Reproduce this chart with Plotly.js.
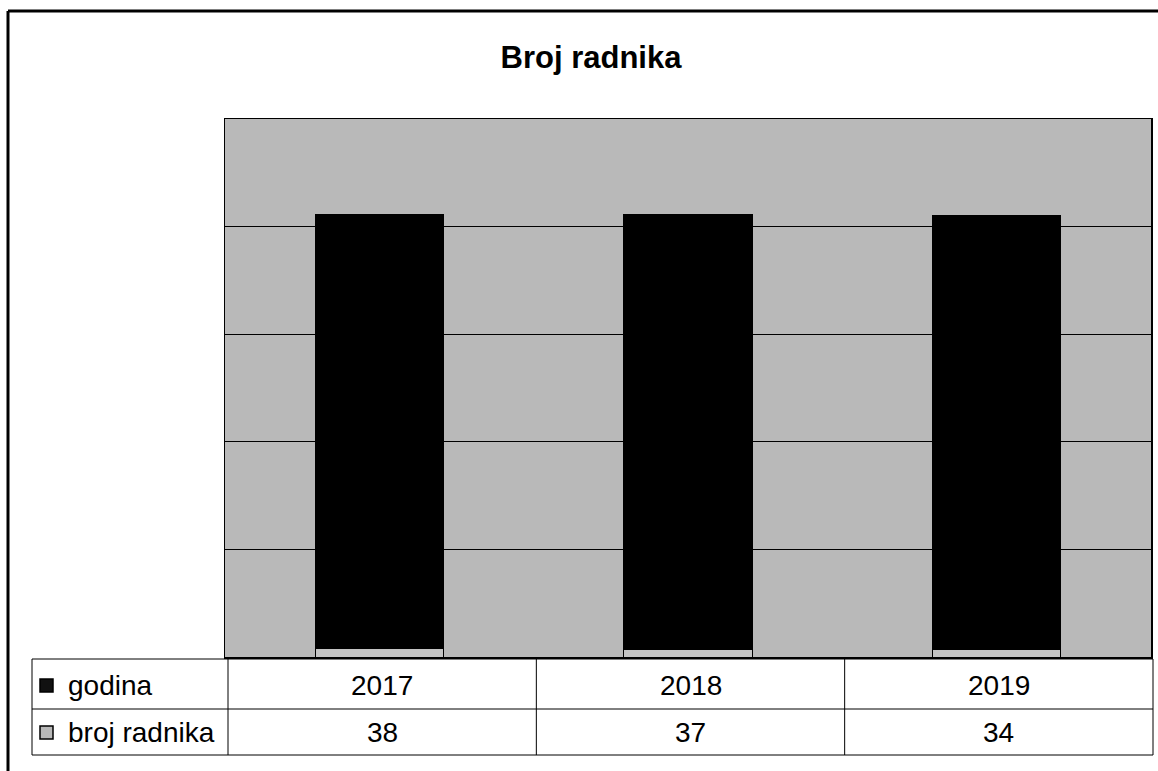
<!DOCTYPE html>
<html>
<head>
<meta charset="utf-8">
<script src="https://cdn.plot.ly/plotly-3.0.1.min.js"></script>
<style>
  html, body { margin: 0; padding: 0; background: #ffffff; }
  #chart { width: 1158px; height: 771px; }
</style>
</head>
<body>
<div id="chart"></div>
<script>
// ---- data ----
const chartTitle = 'Broj radnika';
const categories = ['2017', '2018', '2019'];
const seriesNames = ['godina', 'broj radnika'];
const godina = [2017, 2018, 2019];
const brojRadnika = [38, 37, 34];

// ---- geometry helpers (pixel -> paper) ----
const W = 1158, H = 771;
const L = 225, R = 1151, T = 119, B = 657;
const px = p => (p - L) / (R - L);
const py = p => (B - p) / (B - T);

const FONT = 'Liberation Sans, Arial, sans-serif';

const traces = [
  {
    type: 'bar', name: seriesNames[1], x: categories, y: brojRadnika,
    marker: { color: '#c4c4c4', line: { color: '#000000', width: 1 } },
    hoverinfo: 'skip'
  },
  {
    type: 'bar', name: seriesNames[0], x: categories, y: godina,
    marker: { color: '#000000', line: { color: '#000000', width: 1 } },
    hoverinfo: 'skip'
  }
];

const shapes = [];
const line = (x0, y0, x1, y1, w) => shapes.push({
  type: 'line', xref: 'paper', yref: 'paper',
  x0: px(x0), y0: py(y0), x1: px(x1), y1: py(y1),
  line: { color: '#000000', width: w }
});

// outer frame
line(8, 11, 1160, 11, 3);
line(8, 11, 8, 775, 3);

// data table grid
const tLeft = 32, tFirst = 228, tRight = 1153;
const rowLines = [659, 709, 755];
rowLines.forEach(y => line(tLeft, y, tRight, y, 1));
const colW = (tRight - tFirst) / categories.length;
const colLines = [tLeft, tFirst];
categories.forEach((c, i) => colLines.push(tFirst + colW * (i + 1)));
colLines.forEach(x => line(x, rowLines[0], x, rowLines[2], 1));

// legend keys
const rowCenters = [685, 732];
const keyColors = ['#111111', '#b8b8b8'];
rowCenters.forEach((yc, i) => shapes.push({
  type: 'rect', xref: 'paper', yref: 'paper',
  x0: px(40), x1: px(53), y0: py(yc - 6), y1: py(yc + 7),
  fillcolor: keyColors[i], line: { color: '#000000', width: 1.5 }
}));

const annotations = [];
seriesNames.forEach((n, i) => annotations.push({
  xref: 'paper', yref: 'paper', x: px(66), y: py(rowCenters[i]),
  xanchor: 'left', yanchor: 'middle', showarrow: false, text: n,
  font: { family: FONT, size: 28, color: '#000000' }
}));
categories.forEach((c, i) => {
  const xc = px(tFirst + colW * (i + 0.5));
  annotations.push({
    xref: 'paper', yref: 'paper', x: xc, y: py(rowCenters[0]),
    xanchor: 'center', yanchor: 'middle', showarrow: false, text: String(godina[i]),
    font: { family: FONT, size: 28, color: '#000000' }
  });
  annotations.push({
    xref: 'paper', yref: 'paper', x: xc, y: py(rowCenters[1]),
    xanchor: 'center', yanchor: 'middle', showarrow: false, text: String(brojRadnika[i]),
    font: { family: FONT, size: 28, color: '#000000' }
  });
});

const layout = {
  width: W, height: H,
  margin: { l: L, r: W - R, t: T, b: H - B, pad: 0 },
  paper_bgcolor: '#ffffff',
  plot_bgcolor: '#b9b9b9',
  showlegend: false,
  barmode: 'stack',
  bargap: 0.585,
  title: {
    text: '<b>' + chartTitle + '</b>',
    x: 591 / W, xanchor: 'center', y: 1 - 57 / H, yanchor: 'middle',
    font: { family: FONT, size: 31, color: '#000000' }
  },
  xaxis: {
    type: 'category', range: [-0.5, 2.5],
    showticklabels: false, ticks: '', showgrid: false,
    showline: true, linecolor: '#000000', linewidth: 1.5, mirror: true,
    zeroline: false, fixedrange: true
  },
  yaxis: {
    range: [0, 2500], dtick: 500, tick0: 0,
    showticklabels: false, ticks: '',
    showgrid: true, gridcolor: '#000000', gridwidth: 1,
    showline: true, linecolor: '#000000', linewidth: 1.5, mirror: true,
    zeroline: false, fixedrange: true
  },
  shapes: shapes,
  annotations: annotations
};

Plotly.newPlot('chart', traces, layout, { displayModeBar: false, staticPlot: true });
</script>
</body>
</html>
